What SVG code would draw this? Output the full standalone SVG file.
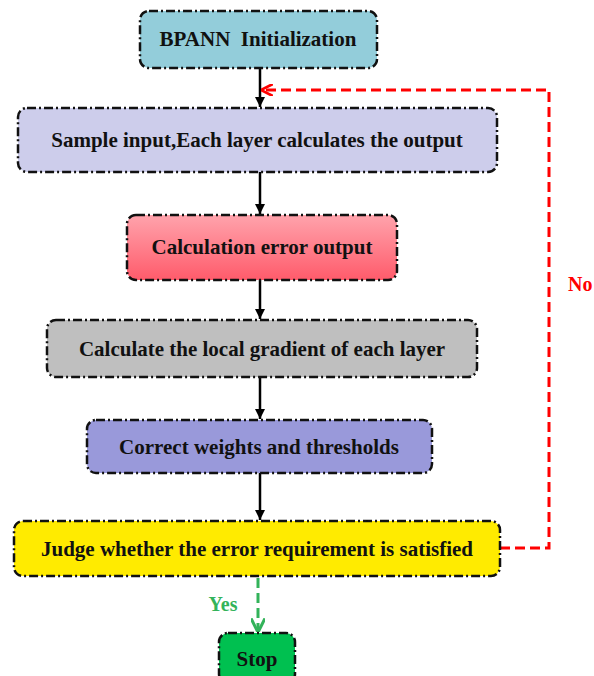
<svg xmlns="http://www.w3.org/2000/svg" width="594" height="676" viewBox="0 0 594 676">
<defs>
<linearGradient id="gRed" x1="0" y1="0" x2="0" y2="1">
<stop offset="0" stop-color="#FFA3AC"/>
<stop offset="1" stop-color="#FF5B6B"/>
</linearGradient>
<marker id="ah" viewBox="0 0 10 10" refX="10" refY="5" markerWidth="10" markerHeight="10" markerUnits="userSpaceOnUse" orient="auto">
<path d="M0,0 L10,5 L0,10 Z" fill="#000"/>
</marker>
<marker id="ahRed" viewBox="0 0 10 10" refX="9" refY="5" markerWidth="12" markerHeight="12" markerUnits="userSpaceOnUse" orient="auto">
<path d="M0,0 L10,5 L0,10" fill="none" stroke="#FF0000" stroke-width="2.2"/>
</marker>
<marker id="ahGreen" viewBox="0 0 10 10" refX="9" refY="5" markerWidth="14" markerHeight="14" markerUnits="userSpaceOnUse" orient="auto">
<path d="M0,0 L10,5 L0,10" fill="none" stroke="#33B35A" stroke-width="2.2"/>
</marker>
</defs>
<style>
.box{stroke:#111;stroke-width:2.5;stroke-dasharray:9 3 2 3;}
.t{font-family:"Liberation Serif","Times New Roman",serif;font-weight:bold;font-size:21px;fill:#111;text-anchor:middle;dominant-baseline:central;}
.c{stroke:#000;stroke-width:2.5;fill:none;}
</style>
<g id="connectors">
<line class="c" x1="260" y1="68" x2="260" y2="107" marker-end="url(#ah)"/>
<line class="c" x1="260" y1="172" x2="260" y2="214" marker-end="url(#ah)"/>
<line class="c" x1="260" y1="280" x2="260" y2="319" marker-end="url(#ah)"/>
<line class="c" x1="260" y1="377" x2="260" y2="419" marker-end="url(#ah)"/>
<line class="c" x1="260" y1="473" x2="260" y2="520" marker-end="url(#ah)"/>
<polyline points="500,548 549,548 549,90 262,90" fill="none" stroke="#FF0000" stroke-width="3" stroke-dasharray="10 5" marker-end="url(#ahRed)"/>
<line x1="258" y1="578" x2="258" y2="631" stroke="#33B35A" stroke-width="3" stroke-dasharray="10 5" marker-end="url(#ahGreen)"/>
<text x="568" y="284" font-family="Liberation Serif, serif" font-weight="bold" font-size="20" fill="#FF0000" dominant-baseline="central">No</text>
<text x="223" y="604" font-family="Liberation Serif, serif" font-weight="bold" font-size="20" fill="#33B35A" text-anchor="middle" dominant-baseline="central">Yes</text>
</g>
<g id="n1">
<rect class="box" x="140" y="11" width="237" height="57" rx="9" fill="#93CDDA"/>
<text class="t" x="258" y="39" xml:space="preserve">BPANN  Initialization</text>
</g>
<g id="n2">
<rect class="box" x="18" y="108" width="479" height="64" rx="9" fill="#CDCDEB"/>
<text class="t" x="257" y="140">Sample input,Each layer calculates the output</text>
</g>
<g id="n3">
<rect class="box" x="127" y="215" width="270" height="65" rx="9" fill="url(#gRed)"/>
<text class="t" x="262" y="247">Calculation error output</text>
</g>
<g id="n4">
<rect class="box" x="47" y="320" width="430" height="57" rx="9" fill="#BFBFBF"/>
<text class="t" x="262" y="349">Calculate the local gradient of each layer</text>
</g>
<g id="n5">
<rect class="box" x="87" y="420" width="345" height="53" rx="9" fill="#9999DA"/>
<text class="t" x="259" y="447">Correct weights and thresholds</text>
</g>
<g id="n6">
<rect class="box" x="14" y="521" width="486" height="55" rx="9" fill="#FFEB00"/>
<text class="t" x="257" y="549">Judge whether the error requirement is satisfied</text>
</g>
<g id="n7">
<rect class="box" x="219" y="633" width="76" height="50" rx="9" fill="#00C050"/>
<text class="t" x="257" y="659">Stop</text>
</g>
</svg>
